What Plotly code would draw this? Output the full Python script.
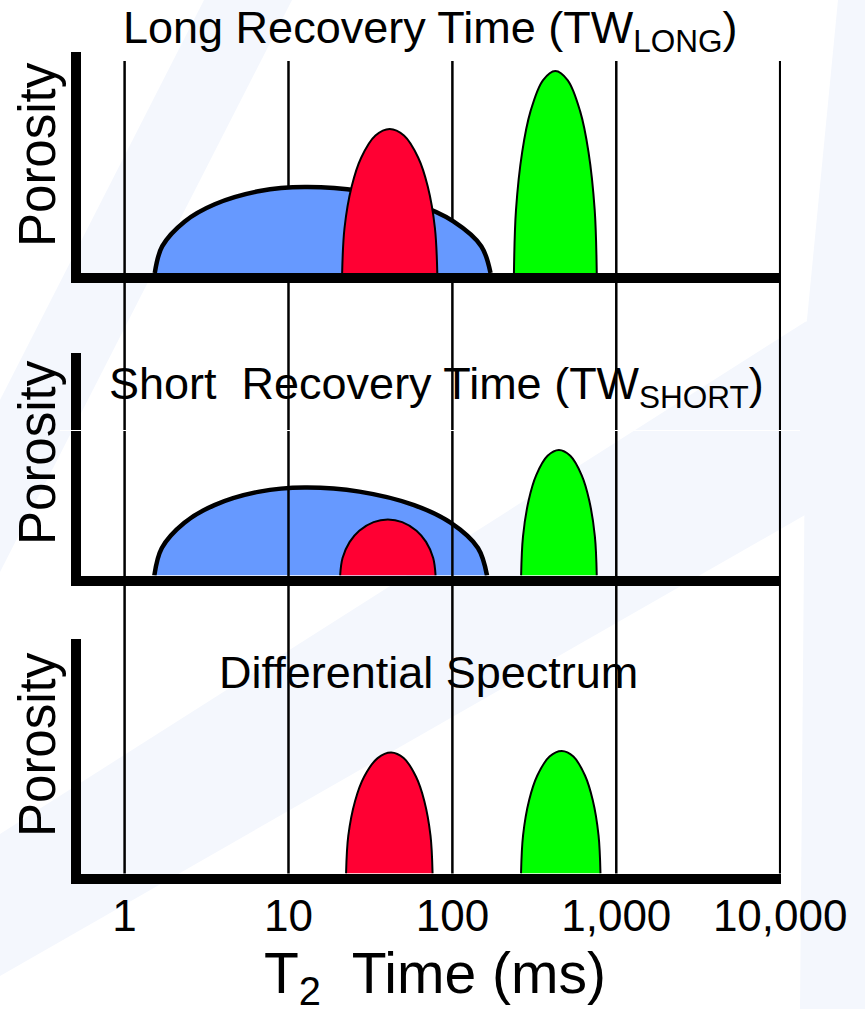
import plotly.graph_objects as go

W, H = 865, 1009

# ---------------- data ----------------
grid_t2 = [1, 10, 100, 1000, 10000]
tick_text = ["1", "10", "100", "1,000", "10,000"]

# Panel 1: long recovery time
long_blue_t2 = [1.528, 1.698, 2.329, 3.549, 6.674, 12.56, 27.48, 60.14, 101.4, 150.0, 170.9]
long_blue_por = [0, 26.8, 51.6, 68.8, 82.0, 86, 82.0, 68.8, 51.6, 26.8, 0]
long_red_t2 = [21.25, 21.97, 24.29, 27.76, 33.93, 41.45, 50.65, 61.90, 70.76, 78.23, 80.89]
long_red_por = [0, 45.0, 86.4, 115.2, 137.4, 144, 137.4, 115.2, 86.4, 45.0, 0]
long_green_t2 = [237.4, 244.4, 266.7, 299.6, 356.7, 424.7, 505.8, 602.2, 676.6, 738.3, 760.1]
long_green_por = [0, 63.1, 121.2, 161.6, 192.7, 202, 192.7, 161.6, 121.2, 63.1, 0]

# Panel 2: short recovery time
short_blue_t2 = [1.518, 1.687, 2.316, 3.534, 6.661, 12.55, 27.07, 58.39, 97.48, 143.2, 162.7]
short_blue_por = [0, 27.5, 52.8, 70.4, 83.9, 88, 83.9, 70.4, 52.8, 27.5, 0]
short_red_t2 = [20.66, 21.37, 23.63, 27.02, 33.04, 40.39, 49.39, 60.40, 69.06, 76.36, 78.98]
short_red_por = [0, 17.5, 33.6, 44.8, 53.4, 56, 53.4, 44.8, 33.6, 17.5, 0]
short_green_t2 = [262.6, 269.7, 292.1, 324.8, 380.9, 446.8, 524.0, 614.5, 683.5, 740.2, 760.1]
short_green_por = [0, 39.2, 75.3, 100.4, 119.7, 125.5, 119.7, 100.4, 75.3, 39.2, 0]

# Panel 3: differential spectrum
diff_red_t2 = [22.45, 23.17, 25.49, 28.94, 35.00, 42.33, 50.40, 60.00, 67.40, 73.54, 75.71]
diff_red_por = [0, 37.8, 72.6, 96.8, 115.4, 121, 115.4, 96.8, 72.6, 37.8, 0]
diff_green_t2 = [262.3, 269.9, 294.1, 329.8, 391.6, 465.0, 547.4, 644.3, 718.2, 779.4, 800.8]
diff_green_por = [0, 38.2, 73.5, 98.0, 116.9, 122.5, 116.9, 98.0, 73.5, 38.2, 0]

panel_titles = ["Long Recovery Time (TW<sub>LONG</sub>)",
                "Short\u00a0 Recovery Time (TW<sub>SHORT</sub>)",
                "Differential Spectrum"]
y_label = "Porosity"
x_label = "T<sub>2</sub>\u00a0 Time (ms)"

BLUE = "#6699ff"
RED = "#ff0033"
GREEN = "#00ff00"
FONT = "Liberation Sans, Arial, sans-serif"


def px_x(px):
    return px / W


def px_y(py):
    return 1 - py / H


fig = go.Figure()


def add_peak(xs, ys, color, lw, ax):
    fig.add_trace(go.Scatter(
        x=xs, y=ys, mode="lines", line=dict(color="black", width=lw, shape="spline", smoothing=1.0),
        fill="tozeroy", fillcolor=color, hoverinfo="skip", showlegend=False,
        xaxis="x" + ax, yaxis="y" + ax))


add_peak(long_blue_t2, long_blue_por, BLUE, 4.5, "")
add_peak(long_red_t2, long_red_por, RED, 2, "")
add_peak(long_green_t2, long_green_por, GREEN, 2, "")
add_peak(short_blue_t2, short_blue_por, BLUE, 4.5, "2")
add_peak(short_red_t2, short_red_por, RED, 2, "2")
add_peak(short_green_t2, short_green_por, GREEN, 2, "2")
add_peak(diff_red_t2, diff_red_por, RED, 2, "3")
add_peak(diff_green_t2, diff_green_por, GREEN, 2, "3")

# panel geometry (pixels): top of y-axis line, top edge of x-axis line, y range
panels = [(52, 273, 221), (353, 575.5, 222.5), (639, 873.5, 234.5)]
x_dom = [px_x(81), px_x(781)]
x_rng = [-0.266, 4.005]

layout = dict(width=W, height=H, autosize=False, template="none",
              margin=dict(l=0, r=0, t=0, b=0, pad=0),
              paper_bgcolor="white", plot_bgcolor="rgba(0,0,0,0)",
              showlegend=False, font=dict(family=FONT, color="black"))

for i, (top, bot, yr) in enumerate(panels):
    sfx = "" if i == 0 else str(i + 1)
    layout["xaxis" + sfx] = dict(
        type="log", range=x_rng, domain=x_dom, anchor="y" + sfx, automargin=False,
        showline=True, linewidth=10, linecolor="black", showgrid=False, zeroline=False,
        ticks="", tickvals=grid_t2, ticktext=tick_text, ticklabelstandoff=-5,
        showticklabels=(i == 2), tickfont=dict(size=44, family=FONT, color="black"),
        fixedrange=True)
    layout["yaxis" + sfx] = dict(
        range=[0, yr], domain=[px_y(bot), px_y(top)], anchor="x" + sfx, automargin=False,
        showline=True, linewidth=10, linecolor="black", showgrid=False, zeroline=False,
        ticks="", showticklabels=False, fixedrange=True)

fig.update_layout(**layout)

shapes = []
STRIPE = "#f4f7fd"


def poly(pts):
    s = "M " + " L ".join(f"{px_x(x):.5f},{px_y(y):.5f}" for x, y in pts) + " Z"
    return dict(type="path", xref="paper", yref="paper", path=s, fillcolor=STRIPE,
                line=dict(width=0), layer="below")


shapes.append(poly([(204, 0), (292, 0), (0, 572), (0, 400)]))
shapes.append(poly([(838, 0), (865, 0), (865, 1009), (800, 1009), (806, 330)]))
shapes.append(poly([(0, 834), (805, 322), (865, 300), (865, 480), (805, 515), (0, 976)]))

# vertical grid lines spanning all panels
for t in grid_t2:
    for (ya, yb, layer) in [(61, 300, "below"), (300, 605, "above"), (605, 873.5, "below")]:
        shapes.append(dict(type="line", xref="x", yref="paper", x0=t, x1=t,
                           y0=px_y(ya), y1=px_y(yb), layer=layer,
                           line=dict(color="black", width=2.5)))

# thin white seam across the middle panel
shapes.append(dict(type="line", xref="paper", yref="paper", x0=px_x(60), x1=px_x(800),
                   y0=px_y(430.5), y1=px_y(430.5), layer="above",
                   line=dict(color="white", width=1.2)))

fig.update_layout(shapes=shapes)

ann = []
title_pos = [(430, 31), (436, 386), (428, 672)]
for txt, (cx, cy) in zip(panel_titles, title_pos):
    ann.append(dict(text=txt, x=px_x(cx), y=px_y(cy), xref="paper", yref="paper",
                    xanchor="center", yanchor="middle", showarrow=False,
                    font=dict(size=45, family=FONT, color="black")))
for cy in [155, 453, 745]:
    ann.append(dict(text=y_label, x=px_x(37), y=px_y(cy), xref="paper", yref="paper",
                    xanchor="center", yanchor="middle", showarrow=False, textangle=-90,
                    font=dict(size=51, family=FONT, color="black")))
ann.append(dict(text=x_label, x=px_x(435), y=px_y(977), xref="paper", yref="paper",
                xanchor="center", yanchor="middle", showarrow=False,
                font=dict(size=57, family=FONT, color="black")))
fig.update_layout(annotations=ann)

fig.write_html("out.html")
